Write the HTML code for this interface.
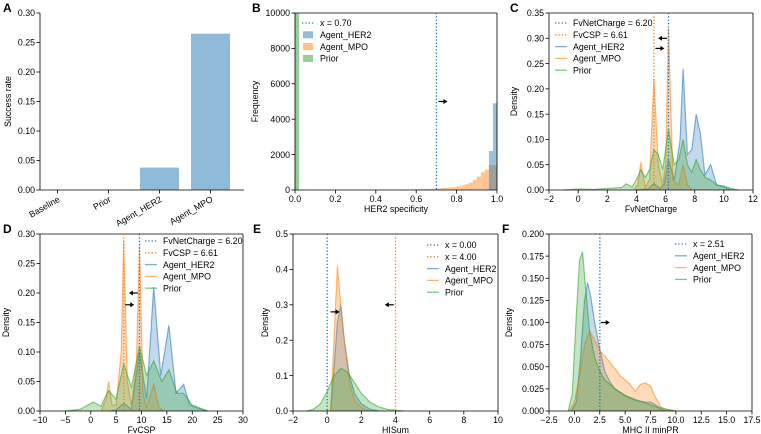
<!DOCTYPE html>
<html><head><meta charset="utf-8"><style>
body{margin:0;background:#fff}
svg{display:block;font-family:"Liberation Sans","DejaVu Sans",sans-serif}
</style></head><body>
<svg id="fig" width="761" height="434" viewBox="0 0 761 434" xmlns="http://www.w3.org/2000/svg"></svg>
<script>
// ---- Data ----
const catsA=["Baseline","Prior","Agent_HER2","Agent_MPO"];
const valsA=[0,0,0.038,0.265];
const binsB=[0.40,0.42,0.44,0.46,0.48,0.50,0.52,0.54,0.56,0.58,0.60,0.62,0.64,0.66,0.68,0.70,0.72,0.74,0.76,0.78,0.80,0.82,0.84,0.86,0.88,0.90,0.92,0.94,0.96,0.98];
const mpoB=[5,8,10,12,15,18,22,26,30,36,42,50,60,70,82,95,110,130,150,175,210,260,330,420,560,760,1000,1150,1420,1400];
const her2B=[0,0,0,0,0,0,0,0,0,0,0,0,0,0,0,0,0,0,0,0,0,0,0,0,0,0,0,0,2200,4900];
const priorB=[10000];
const cHerX=[4,4.8,5.2,5.6,5.9,6.2,6.6,7.0,7.2,7.5,7.8,8.1,8.4,8.7,9.1,9.5,10,10.5];
const cHerY=[0,0.002,0.013,0.003,0.01,0.06,0.02,0.10,0.24,0.07,0.08,0.15,0.11,0.03,0.05,0.01,0.006,0];
const cMpoX=[3.8,4.1,4.3,4.6,4.9,5.2,5.5,5.8,6.0,6.2,6.5,6.9,7.2,7.5,7.8];
const cMpoY=[0,0.01,0.055,0.005,0.02,0.22,0.05,0.01,0.05,0.32,0.02,0.01,0.05,0.01,0];
const cPriX=[-1,0,1,2,3,3.3,3.7,4.0,4.3,4.6,4.9,5.2,5.5,5.8,6.2,6.6,6.9,7.2,7.5,7.8,8.1,8.4,8.7,9.1,9.5,10,10.5,11];
const cPriY=[0,0.002,0.001,0.003,0.005,0.012,0.006,0.02,0.04,0.025,0.04,0.08,0.07,0.04,0.12,0.05,0.06,0.10,0.05,0.035,0.06,0.04,0.025,0.02,0.01,0.008,0.003,0];
const dHerX=[4,5,6.5,8,9.6,11,12.4,13.8,15.4,16.8,18.3,19.5,21,23];
const dHerY=[0,0.002,0.013,0.003,0.10,0.02,0.21,0.06,0.145,0.03,0.045,0.01,0.005,0];
const dMpoX=[2,3,3.5,4.2,5,6,6.5,7.2,8,9,9.6,10.3,11,12.4,13.5,14.5];
const dMpoY=[0,0.02,0.05,0.01,0.01,0.1,0.29,0.05,0.01,0.08,0.28,0.03,0.005,0.045,0.005,0];
const dPriX=[-5,-2,0.5,2,3.5,5,6.5,8,9.6,11,12.4,14,15.4,17,18.3,20,21,23];
const dPriY=[0,0.003,0.015,0.008,0.035,0.02,0.08,0.04,0.11,0.06,0.085,0.05,0.07,0.03,0.03,0.01,0.007,0];
const eHerX=[0.2,0.4,0.6,0.8,1.0,1.3,1.6,2.0,2.5,3];
const eHerY=[0,0.12,0.25,0.3,0.2,0.1,0.05,0.02,0.005,0];
const eMpoX=[0.2,0.4,0.6,0.8,1.0,1.3,1.6,2.0,2.4];
const eMpoY=[0,0.2,0.41,0.3,0.2,0.08,0.03,0.01,0];
const ePriX=[-1.2,-0.8,-0.4,0,0.4,0.8,1.2,1.6,2.0,2.5,3,3.5,4,4.5];
const ePriY=[0,0.005,0.02,0.055,0.1,0.12,0.11,0.08,0.05,0.025,0.012,0.005,0.002,0];
const fHerX=[-0.3,0.2,0.6,1.0,1.3,1.6,2.0,2.5,3,3.5,4,5,6,7,7.5,8,8.5,9];
const fHerY=[0,0.01,0.06,0.125,0.145,0.13,0.1,0.07,0.045,0.033,0.025,0.017,0.012,0.01,0.01,0.007,0.002,0];
const fMpoX=[-0.5,0,0.5,1.0,1.5,2.0,2.5,3,3.5,4,4.5,5,5.5,6,6.5,7,7.5,8,8.5,9,10];
const fMpoY=[0,0.01,0.04,0.075,0.09,0.08,0.068,0.062,0.055,0.048,0.04,0.035,0.03,0.022,0.03,0.032,0.028,0.015,0.005,0.002,0];
const fPriX=[-0.6,-0.2,0.2,0.5,0.8,1.1,1.5,2,2.5,3,4,5,6,7,8,9,10];
const fPriY=[0,0.02,0.11,0.17,0.18,0.14,0.09,0.06,0.045,0.035,0.025,0.018,0.013,0.009,0.005,0.002,0];

const C={b:"#1f77b4",o:"#ff7f0e",g:"#2ca02c"};
const NS="http://www.w3.org/2000/svg";
const svg=document.getElementById("fig");
function mk(tag,attrs,parent,text){const e=document.createElementNS(NS,tag);for(const k in attrs)e.setAttribute(k,attrs[k]);if(text!==undefined)e.textContent=text;(parent||svg).appendChild(e);return e;}

function axes(id,px0,px1,py0,py1,xmin,xmax,ymin,ymax,xt,xl,yt,yl,box,xlabel,ylabel,ylabX,letter){
  const g=mk("g",{});
  
  
  const sx=v=>px0+(v-xmin)/(xmax-xmin)*(px1-px0);
  const sy=v=>py1-(v-ymin)/(ymax-ymin)*(py1-py0);
  const marks=mk("g",{},g);
  const sp=mk("g",{stroke:"#000","stroke-width":0.8,fill:"none"},g);
  mk("line",{x1:px0,y1:py0,x2:px0,y2:py1},sp);
  mk("line",{x1:px0,y1:py1,x2:px1,y2:py1},sp);
  if(box){mk("line",{x1:px0,y1:py0,x2:px1,y2:py0},sp);mk("line",{x1:px1,y1:py0,x2:px1,y2:py1},sp);}
  xt.forEach((v,i)=>{const x=sx(v);mk("line",{x1:x,y1:py1,x2:x,y2:py1+3.5,stroke:"#000","stroke-width":0.8},g);
    if(xl){const t=mk("text",{x:x,y:py1+12,"font-size":8.8,"text-anchor":"middle"},g,xl[i]);
    
    }});
  yt.forEach((v,i)=>{const y=sy(v);mk("line",{x1:px0,y1:y,x2:px0-3.5,y2:y,stroke:"#000","stroke-width":0.8},g);
    const t=mk("text",{x:px0-5,y:y+3.2,"font-size":8.8,"text-anchor":"end"},g,yl[i]);
    
    });
  if(xlabel){const t=mk("text",{x:(px0+px1)/2,y:py1+22,"font-size":8.8,"text-anchor":"middle"},g,xlabel);
    
    }
  const yy=(py0+py1)/2;
  const t2=mk("text",{x:ylabX,y:yy,"font-size":8.8,"text-anchor":"middle",transform:`rotate(-90 ${ylabX} ${yy})`},g,ylabel);
  
  
  const L=mk("text",{x:letter[0],y:letter[1],"font-size":12,"font-weight":"bold"},g,letter[2]);
  
  
  return {sx,sy,g:marks,top:g,px0,px1,py0,py1};
}
function density(ax,xs,ys,col,name){
  let d=`M${ax.sx(xs[0])},${ax.sy(0)}`;
  xs.forEach((x,i)=>{d+=` L${ax.sx(x).toFixed(1)},${ax.sy(ys[i]).toFixed(1)}`;});
  d+=` L${ax.sx(xs[xs.length-1])},${ax.sy(0)} Z`;
  const f=mk("path",{d:d,fill:col,"fill-opacity":0.28,stroke:"none"},ax.g);
  
  
  const l=mk("polyline",{points:xs.map((x,i)=>ax.sx(x).toFixed(1)+","+ax.sy(ys[i]).toFixed(1)).join(" "),fill:"none",stroke:col,"stroke-width":1.2,"stroke-opacity":0.55},ax.g);
  
  
}
function vline(ax,x,col,name){
  const l=mk("line",{x1:ax.sx(x),y1:ax.py0,x2:ax.sx(x),y2:ax.py1,stroke:col,"stroke-width":1.3,"stroke-dasharray":"1.3,2"},ax.top);
  
  
}
function arrow(ax,x,y,dir){
  const X=ax.sx(x),Y=ax.sy(y);
  const g=mk("g",{},ax.top);
  
  
  mk("line",{x1:X,y1:Y,x2:X+dir*6,y2:Y,stroke:"#000","stroke-width":1.2},g);
  mk("path",{d:`M${X+dir*9},${Y} L${X+dir*5},${Y-2.5} L${X+dir*5},${Y+2.5} Z`,fill:"#000"},g);
}
function legend(x,y,items){
  const g=mk("g",{});
  
  
  items.forEach((it,i)=>{const yy=y+i*11.8;
    if(it.t==="dot")mk("line",{x1:x,y1:yy,x2:x+12,y2:yy,stroke:it.c,"stroke-width":1.3,"stroke-dasharray":"1.3,2"},g);
    else if(it.t==="line")mk("line",{x1:x,y1:yy,x2:x+12,y2:yy,stroke:it.c,"stroke-width":1.3,"stroke-opacity":0.6},g);
    else mk("rect",{x:x+1,y:yy-3.5,width:10,height:7,fill:it.c,"fill-opacity":0.5},g);
    const t=mk("text",{x:x+18,y:yy+3.2,"font-size":8.8},g,it.s);
    
    });
}

// Panel A
const A=axes("a",40,244,13,190,0,4,0,0.30,[],null,[0,0.05,0.1,0.15,0.2,0.25,0.3],["0.00","0.05","0.10","0.15","0.20","0.25","0.30"],false,null,"Success rate",11,[3,12,"A"]);
catsA.forEach((c,i)=>{
  const cx=A.sx(i+0.5)-8;
  const r=mk("rect",{x:cx-19.5,y:A.sy(valsA[i]),width:39,height:A.sy(0)-A.sy(valsA[i]),fill:C.b,"fill-opacity":0.5},A.g);
  
  
  mk("line",{x1:cx,y1:190,x2:cx,y2:193.5,stroke:"#000","stroke-width":0.8},A.top);
  const t=mk("text",{x:cx+3,y:201,"font-size":8.8,"text-anchor":"end",transform:`rotate(-30 ${cx+3} 201)`},A.top,c);
  
  
});

// Panel B
const B=axes("b",295,497,13,190,0,1,0,10000,[0,0.2,0.4,0.6,0.8,1.0],["0.0","0.2","0.4","0.6","0.8","1.0"],[0,2000,4000,6000,8000,10000],["0","2000","4000","6000","8000","10000"],true,"HER2 specificity","Frequency",258,[252,12,"B"]);
binsB.forEach((b,i)=>{
  [[mpoB,C.o],[her2B,C.b]].forEach(([arr,col])=>{if(arr[i]>0){
    const r=mk("rect",{x:B.sx(b),y:B.sy(arr[i]),width:B.sx(b+0.02)-B.sx(b),height:B.sy(0)-B.sy(arr[i]),fill:col,"fill-opacity":0.45},B.g);
    
    }});
});
priorB.forEach(v=>{const r=mk("rect",{x:B.sx(0),y:B.sy(Math.min(v,10000)),width:B.sx(0.02)-B.sx(0),height:B.sy(0)-B.sy(Math.min(v,10000)),fill:C.g,"fill-opacity":0.5},B.g);
  
  });
vline(B,0.70,C.b,"threshold-line");
arrow(B,0.71,5000,1);
legend(302,23,[{t:"dot",c:C.b,s:"x = 0.70"},{t:"rect",c:C.b,s:"Agent_HER2"},{t:"rect",c:C.o,s:"Agent_MPO"},{t:"rect",c:C.g,s:"Prior"}]);

// Panel C
const Cp=axes("c",549,753,13,190,-2,12,0,0.35,[-2,0,2,4,6,8,10,12],["−2","0","2","4","6","8","10","12"],[0,0.05,0.1,0.15,0.2,0.25,0.3,0.35],["0.00","0.05","0.10","0.15","0.20","0.25","0.30","0.35"],true,"FvNetCharge","Density",517,[510,12,"C"]);
density(Cp,cHerX,cHerY,C.b,"agent-her2");
density(Cp,cMpoX,cMpoY,C.o,"agent-mpo");
density(Cp,cPriX,cPriY,C.g,"prior");
vline(Cp,6.2,C.b,"fvnetcharge-line");vline(Cp,5.2,C.o,"fvcsp-line");
arrow(Cp,6.1,0.30,-1);arrow(Cp,5.3,0.28,1);
legend(555,23,[{t:"dot",c:C.b,s:"FvNetCharge = 6.20"},{t:"dot",c:C.o,s:"FvCSP = 6.61"},{t:"line",c:C.b,s:"Agent_HER2"},{t:"line",c:C.o,s:"Agent_MPO"},{t:"line",c:C.g,s:"Prior"}]);

// Panel D
const D=axes("d",40,243,234,411,-10,30,0,0.30,[-10,-5,0,5,10,15,20,25,30],["−10","−5","0","5","10","15","20","25","30"],[0,0.05,0.1,0.15,0.2,0.25,0.3],["0.00","0.05","0.10","0.15","0.20","0.25","0.30"],true,"FvCSP","Density",9,[3,233,"D"]);
density(D,dHerX,dHerY,C.b,"agent-her2");
density(D,dMpoX,dMpoY,C.o,"agent-mpo");
density(D,dPriX,dPriY,C.g,"prior");
vline(D,9.6,C.b,"fvnetcharge-line");vline(D,6.5,C.o,"fvcsp-line");
arrow(D,9.3,0.20,-1);arrow(D,6.8,0.18,1);
legend(145,241,[{t:"dot",c:C.b,s:"FvNetCharge = 6.20"},{t:"dot",c:C.o,s:"FvCSP = 6.61"},{t:"line",c:C.b,s:"Agent_HER2"},{t:"line",c:C.o,s:"Agent_MPO"},{t:"line",c:C.g,s:"Prior"}]);

// Panel E
const E=axes("e",293,498,234,411,-2,10,0,0.5,[-2,0,2,4,6,8,10],["−2","0","2","4","6","8","10"],[0,0.1,0.2,0.3,0.4,0.5],["0.0","0.1","0.2","0.3","0.4","0.5"],true,"HISum","Density",268,[253,233,"E"]);
density(E,eHerX,eHerY,C.b,"agent-her2");
density(E,eMpoX,eMpoY,C.o,"agent-mpo");
density(E,ePriX,ePriY,C.g,"prior");
vline(E,0,C.b,"threshold-low");vline(E,4,C.o,"threshold-high");
arrow(E,0.2,0.28,1);arrow(E,3.9,0.30,-1);
legend(427,245,[{t:"dot",c:C.b,s:"x = 0.00"},{t:"dot",c:C.o,s:"x = 4.00"},{t:"line",c:C.b,s:"Agent_HER2"},{t:"line",c:C.o,s:"Agent_MPO"},{t:"line",c:C.g,s:"Prior"}]);

// Panel F
const F=axes("f",549,752,234,411,-2.5,17.5,0,0.2,[-2.5,0,2.5,5,7.5,10,12.5,15,17.5],["−2.5","0.0","2.5","5.0","7.5","10.0","12.5","15.0","17.5"],[0,0.025,0.05,0.075,0.1,0.125,0.15,0.175,0.2],["0.000","0.025","0.050","0.075","0.100","0.125","0.150","0.175","0.200"],true,"MHC II minPR","Density",512,[502,233,"F"]);
density(F,fHerX,fHerY,C.b,"agent-her2");
density(F,fMpoX,fMpoY,C.o,"agent-mpo");
density(F,fPriX,fPriY,C.g,"prior");
vline(F,2.51,C.b,"threshold-line");
arrow(F,2.6,0.1,1);
legend(675,244,[{t:"dot",c:C.b,s:"x = 2.51"},{t:"line",c:C.b,s:"Agent_HER2"},{t:"line",c:C.o,s:"Agent_MPO"},{t:"line",c:C.g,s:"Prior"}]);
</script>
</body></html>
